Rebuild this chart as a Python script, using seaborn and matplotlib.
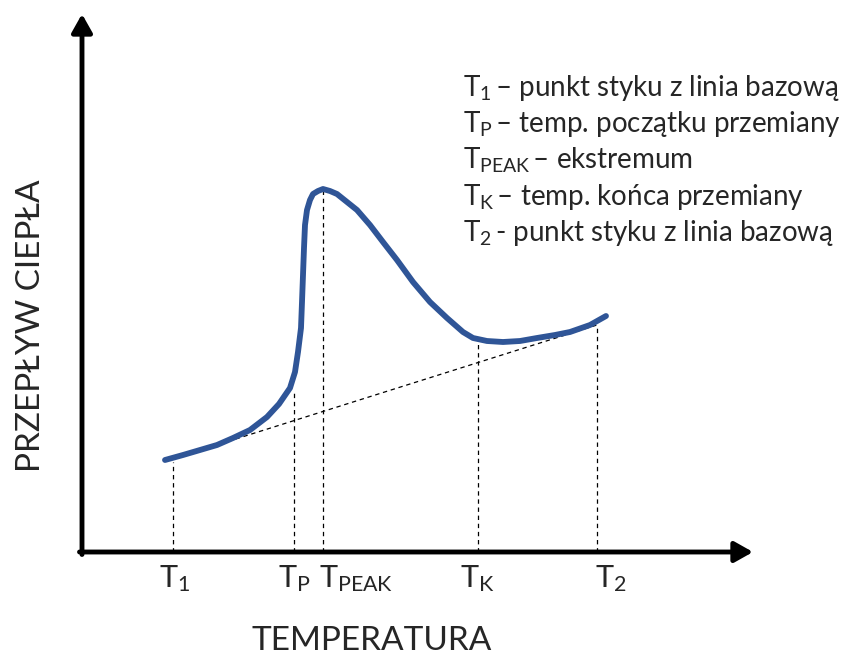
import matplotlib
matplotlib.use("Agg")
import matplotlib.pyplot as plt
import seaborn as sns
import pandas as pd

# DSC-style heat flow curve (arbitrary units)
temperature = [8.3, 10.1, 11.8, 13.5, 15.1, 16.8, 18.5, 19.7, 20.8, 21.3, 21.6, 21.9,
               22.0, 22.1, 22.2, 22.3, 22.5, 22.8, 23.1, 23.6, 24.1, 24.8, 25.5, 26.5,
               27.5, 28.8, 30.1, 31.5, 33.1, 34.8, 36.5, 38.1, 39.1, 40.5, 42.1, 43.8,
               45.5, 47.3, 48.8, 50.8, 52.4]
heat_flow = [9.2, 9.7, 10.2, 10.7, 11.4, 12.2, 13.5, 14.8, 16.4, 18.0, 20.0, 22.4,
             25.0, 27.7, 30.4, 32.7, 34.2, 35.2, 35.8, 36.1, 36.3, 36.1, 35.8, 35.0,
             34.2, 32.7, 31.0, 29.2, 27.0, 25.0, 23.4, 22.0, 21.4, 21.1, 21.0, 21.1,
             21.4, 21.7, 22.0, 22.7, 23.6]

# Baseline between the two contact points
baseline_temp = [8.4, 51.5]
baseline_flow = [9.1, 22.7]

# Characteristic temperatures and the height of their guide lines
marker_temp = [9.1, 21.2, 24.1, 39.6, 51.5]
marker_top = [9.0, 16.2, 36.3, 21.2, 22.7]
tick_labels = [r"$\mathrm{T_{1}}$", r"$\mathrm{T_{P}}$", r"$\mathrm{T_{PEAK}}$",
               r"$\mathrm{T_{K}}$", r"$\mathrm{T_{2}}$"]

legend_symbols = [r"$\mathrm{T_{1}}\,$", r"$\mathrm{T_{P}}\,$", r"$\mathrm{T_{PEAK}}\,$",
                  r"$\mathrm{T_{K}}\,$", r"$\mathrm{T_{2}}\,$"]
legend_texts = ["– punkt styku z linia bazową",
                "– temp. początku przemiany",
                "– ekstremum",
                "– temp. końca przemiany",
                "- punkt styku z linia bazową"]

x_title = "TEMPERATURA"
y_title = "PRZEPŁYW CIEPŁA"

sns.set_style("white")
plt.rcParams["font.family"] = ["Lato", "DejaVu Sans"]
plt.rcParams["mathtext.fontset"] = "custom"
plt.rcParams["mathtext.rm"] = "Lato"
plt.rcParams["mathtext.it"] = "Lato:italic"
plt.rcParams["mathtext.bf"] = "Lato:bold"

fig = plt.figure(figsize=(8.46, 6.55), dpi=100)
ax = fig.add_axes([0, 0, 1, 1])
ax.set_xlim(-8.2, 76.4)
ax.set_ylim(-10.3, 55.2)
ax.axis("off")

curve = pd.DataFrame({"T": temperature, "Q": heat_flow})
base = pd.DataFrame({"T": baseline_temp, "Q": baseline_flow})

dash = dict(color="black", lw=0.9, linestyle=(0, (3.5, 3)))

# Guide lines down to the temperature axis
ax.vlines(marker_temp, 0, marker_top, zorder=1, **dash)
sns.lineplot(data=base, x="T", y="Q", ax=ax, zorder=2, **dash)
sns.lineplot(data=curve, x="T", y="Q", sort=False, ax=ax, color="#2F5597",
             lw=4.2, zorder=3, solid_capstyle="round", solid_joinstyle="round")

# Axes drawn as arrows
arrow = dict(arrowstyle="-|>,head_length=1.1,head_width=0.62", color="black",
             lw=3.5, mutation_scale=10, shrinkA=0, shrinkB=0)
ax.annotate("", xy=(67.1, 0), xytext=(-0.25, 0), arrowprops=arrow, zorder=4)
ax.annotate("", xy=(0, 53.8), xytext=(0, -0.25), arrowprops=arrow, zorder=4)

# Tick labels below the axis
label_shift = [-1.4, -1.6, -0.4, -1.8, -0.2]
for t, lab, dx in zip(marker_temp, tick_labels, label_shift):
    ax.text(t + dx, -3.5, lab, fontsize=22, ha="left", va="baseline")

# Legend of symbols
for i, (sym, txt) in enumerate(zip(legend_symbols, legend_texts)):
    ax.text(38.1, 45.6 - 3.63 * i, sym + txt, fontsize=20, ha="left", va="baseline")

ax.text(29.0, -9.8, x_title, fontsize=24, ha="center", va="baseline")
ax.text(-5.1, 22.6, y_title, fontsize=24, ha="center", va="center", rotation=90)

fig.savefig("out.png", dpi=100)
